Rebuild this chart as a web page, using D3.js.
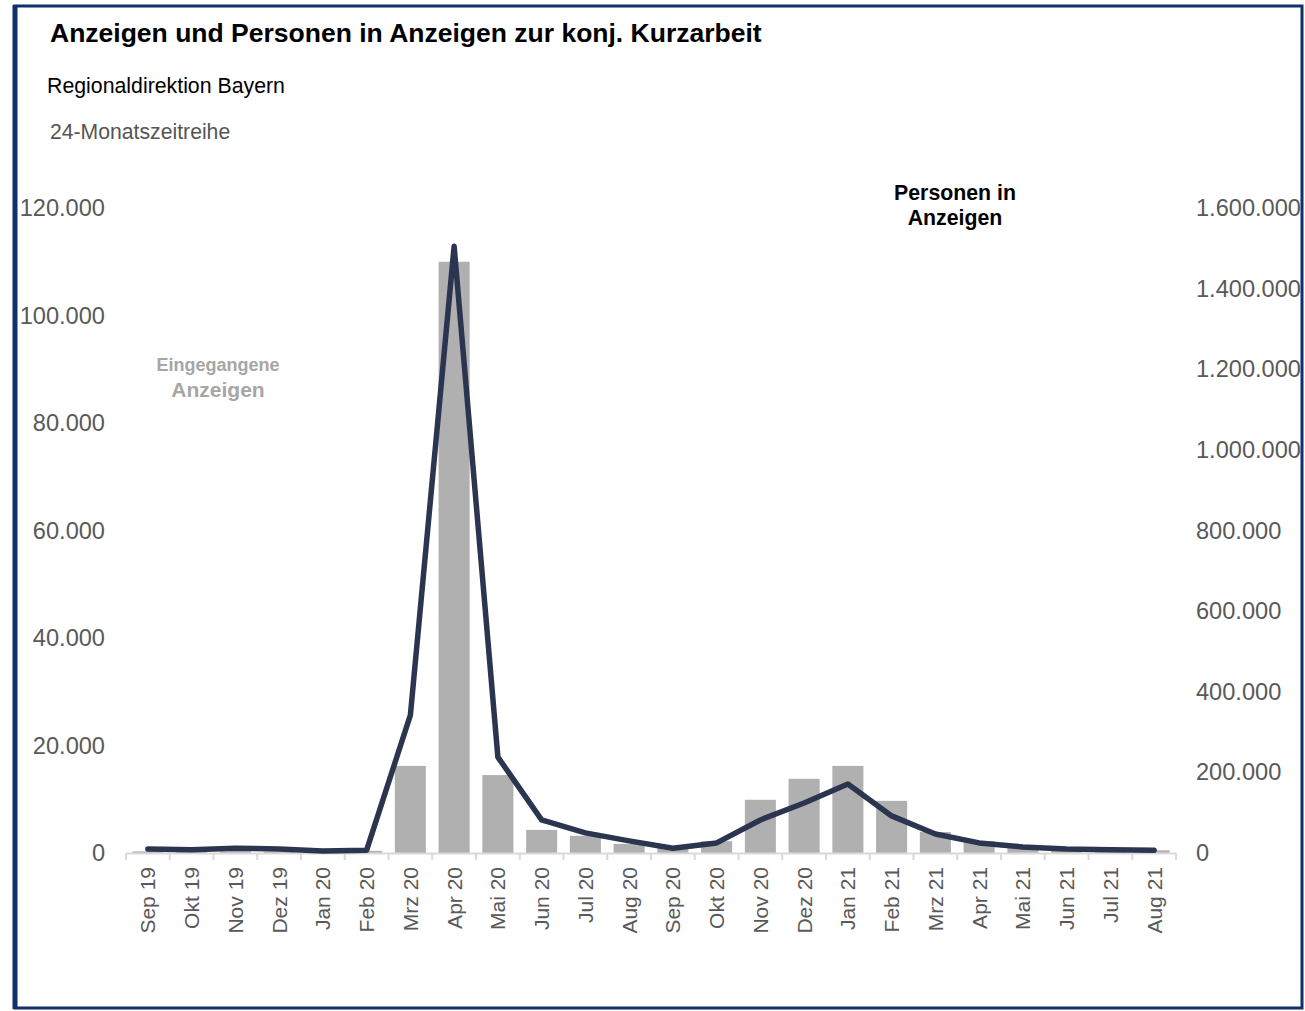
<!DOCTYPE html>
<html>
<head>
<meta charset="utf-8">
<script src="https://cdn.jsdelivr.net/npm/d3@7"></script>
<style>
  body { margin: 0; background: #fff; }
  svg { font-family: "Liberation Sans", Arial, sans-serif; }
</style>
</head>
<body>
<svg id="svg1" width="1305" height="1011"></svg>
<script>
var months = ["Sep 19","Okt 19","Nov 19","Dez 19","Jan 20","Feb 20","Mrz 20","Apr 20","Mai 20","Jun 20","Jul 20","Aug 20",
              "Sep 20","Okt 20","Nov 20","Dez 20","Jan 21","Feb 21","Mrz 21","Apr 21","Mai 21","Jun 21","Jul 21","Aug 21"];
// Eingegangene Anzeigen (left axis)
var anzeigen = [300,200,300,250,200,400,16200,110000,14500,4300,3200,1700,
                1100,2200,9900,13800,16200,9700,3900,2200,1000,600,400,500];
// Personen in Anzeigen (right axis)
var personen = [10000,8000,12000,10000,5000,7000,342000,1505000,238000,82000,50000,30000,
                12000,25000,82000,124000,171000,92000,47000,25000,15000,10000,8000,7000];
var leftTicks = [0,20000,40000,60000,80000,100000,120000];
var rightTicks = [0,200000,400000,600000,800000,1000000,1200000,1400000,1600000];

var svg = d3.select("#svg1");
var fmt = d3.formatLocale({decimal: ",", thousands: ".", grouping: [3], currency: ["", "€"]}).format(",.0f");

// frame
svg.append("rect")
    .attr("x", 15).attr("y", 6)
    .attr("width", 1287).attr("height", 1002)
    .attr("fill", "none")
    .attr("stroke", "#112f6b")
    .attr("stroke-width", 3);
svg.append("line")
    .attr("x1", 15).attr("x2", 15).attr("y1", 5).attr("y2", 1009)
    .attr("stroke", "#112f6b").attr("stroke-width", 5);

svg.append("text").attr("x", 50).attr("y", 42)
    .attr("font-size", 26.5).attr("font-weight", "bold").attr("fill", "#000")
    .text("Anzeigen und Personen in Anzeigen zur konj. Kurzarbeit");
svg.append("text").attr("x", 47).attr("y", 93)
    .attr("font-size", 21.3).attr("fill", "#000")
    .text("Regionaldirektion Bayern");
svg.append("text").attr("x", 50).attr("y", 139)
    .attr("font-size", 21.2).attr("fill", "#555")
    .text("24-Monatszeitreihe");

var x0 = 126, x1 = 1176, yTop = 208, yBase = 853;

var scaleX = d3.scaleBand().domain(months).range([x0, x1]).paddingInner(0.29).paddingOuter(0.145);
var scaleL = d3.scaleLinear().domain([0, 120000]).range([yBase, yTop]);
var scaleR = d3.scaleLinear().domain([0, 1600000]).range([yBase, yTop]);

// bars
svg.selectAll(".bar")
    .data(anzeigen)
    .enter()
    .append("rect")
      .attr("class", "bar")
      .attr("x", function(d, i) { return scaleX(months[i]); })
      .attr("y", function(d) { return scaleL(d); })
      .attr("width", scaleX.bandwidth())
      .attr("height", function(d) { return yBase - scaleL(d); })
      .attr("fill", "#b0b0b0");

// x axis line and ticks
var step = scaleX.step();
svg.append("line")
    .attr("x1", x0).attr("x2", x1).attr("y1", yBase + 0.5).attr("y2", yBase + 0.5)
    .attr("stroke", "#d9d9d9").attr("stroke-width", 2);
svg.selectAll(".xtick")
    .data(d3.range(months.length + 1))
    .enter()
    .append("line")
      .attr("class", "xtick")
      .attr("x1", function(i) { return x0 + i * step; })
      .attr("x2", function(i) { return x0 + i * step; })
      .attr("y1", yBase).attr("y2", yBase + 7)
      .attr("stroke", "#d9d9d9").attr("stroke-width", 2);

svg.selectAll(".xlabel")
    .data(months)
    .enter()
    .append("text")
      .attr("class", "xlabel")
      .attr("transform", function(d) { return "translate(" + (scaleX(d) + scaleX.bandwidth() / 2 + 7.5) + "," + 867 + ") rotate(-90)"; })
      .attr("text-anchor", "end")
      .attr("font-size", 21)
      .attr("fill", "#595959")
      .text(function(d) { return d; });

// left axis labels
svg.selectAll(".ylabel")
    .data(leftTicks)
    .enter()
    .append("text")
      .attr("class", "ylabel")
      .attr("x", 105)
      .attr("y", function(d) { return scaleL(d) + 8; })
      .attr("text-anchor", "end")
      .attr("font-size", 23.6)
      .attr("fill", "#595959")
      .text(function(d) { return fmt(d); });

// right axis labels
svg.selectAll(".rlabel")
    .data(rightTicks)
    .enter()
    .append("text")
      .attr("class", "rlabel")
      .attr("x", 1196)
      .attr("y", function(d) { return scaleR(d) + 8; })
      .attr("font-size", 23.6)
      .attr("fill", "#595959")
      .text(function(d) { return fmt(d); });

// line
var line = d3.line()
    .x(function(d, i) { return scaleX(months[i]) + scaleX.bandwidth() / 2; })
    .y(function(d) { return scaleR(d); });
svg.append("path")
    .datum(personen)
    .attr("d", line)
    .attr("fill", "none")
    .attr("stroke", "#2b3550")
    .attr("stroke-width", 5.5)
    .attr("stroke-linecap", "round")
    .attr("stroke-linejoin", "round");

// series labels
svg.append("text").attr("x", 955).attr("y", 200)
    .attr("text-anchor", "middle").attr("font-size", 21.3).attr("font-weight", "bold")
    .text("Personen in");
svg.append("text").attr("x", 955).attr("y", 225)
    .attr("text-anchor", "middle").attr("font-size", 21.3).attr("font-weight", "bold")
    .text("Anzeigen");
svg.append("text").attr("x", 218).attr("y", 371)
    .attr("text-anchor", "middle").attr("font-size", 18).attr("font-weight", "bold").attr("fill", "#a6a6a6")
    .text("Eingegangene");
svg.append("text").attr("x", 218).attr("y", 397)
    .attr("text-anchor", "middle").attr("font-size", 21).attr("font-weight", "bold").attr("fill", "#a6a6a6")
    .text("Anzeigen");
</script>
</body>
</html>
